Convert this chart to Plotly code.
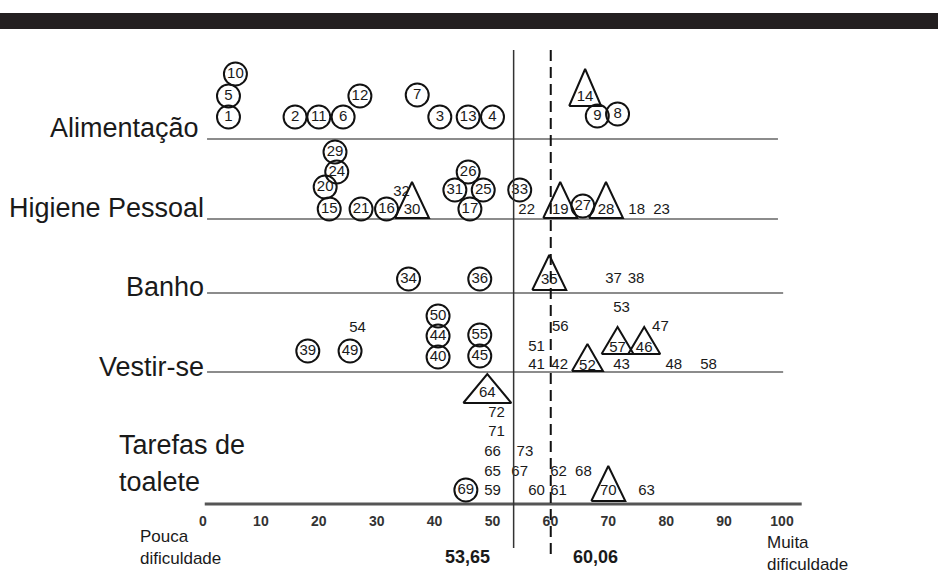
import plotly.graph_objects as go

# ---------------- data ----------------
categories = ["Alimentação", "Higiene Pessoal", "Banho", "Vestir-se", "Tarefas de\ntoalete"]

# kind: c = item in a circle, t = item in a triangle, n = number only
alimentacao_ids = [1, 5, 10, 2, 11, 6, 12, 7, 3, 13, 4, 14, 9, 8]
alimentacao_values = [4.4, 4.4, 5.6, 15.9, 20.0, 24.2, 27.1, 37.0, 40.9, 45.8, 50.0, 66.0, 68.1, 71.6]
alimentacao_stack = [22, 43, 65, 22, 22, 22, 43, 44, 22, 22, 22, 42, 23, 25]
alimentacao_kind = ["c", "c", "c", "c", "c", "c", "c", "c", "c", "c", "c", "t", "c", "c"]

higiene_ids = [29, 24, 20, 15, 21, 16, 30, 32, 26, 31, 25, 17, 33, 22, 19, 27, 28, 18, 23]
higiene_values = [22.8, 23.1, 21.1, 21.8, 27.3, 31.7, 36.1, 34.3, 45.8, 43.5, 48.4, 46.1, 54.7, 55.9,
                  61.7, 65.6, 69.6, 74.9, 79.2]
higiene_stack = [67, 47, 32, 10, 10, 10, 9, 27, 47, 29, 29, 10, 29, 9, 9, 13, 9, 9, 9]
higiene_kind = ["c", "c", "c", "c", "c", "c", "t", "n", "c", "c", "c", "c", "c", "n", "t", "c", "t", "n", "n"]

banho_ids = [34, 36, 35, 37, 38]
banho_values = [35.5, 47.8, 59.8, 70.9, 74.8]
banho_stack = [14, 14, 13, 14, 14]
banho_kind = ["c", "c", "t", "n", "n"]

vestir_ids = [50, 44, 40, 55, 45, 54, 39, 49, 51, 41, 56, 42, 52, 57, 46, 53, 47, 43, 48, 58]
vestir_values = [40.6, 40.6, 40.6, 47.8, 47.8, 26.7, 18.1, 25.4, 57.6, 57.6, 61.7, 61.6, 66.4, 71.6,
                 76.2, 72.3, 79.0, 72.3, 81.3, 87.3]
vestir_stack = [56, 36, 15, 37, 16, 44, 21, 21, 25, 7, 45, 7, 6, 24, 24, 64, 45, 7, 7, 7]
vestir_kind = ["c", "c", "c", "c", "c", "n", "c", "c", "n", "n", "n", "n", "t", "t", "t", "n", "n", "n", "n", "n"]

toalete_ids = [64, 72, 71, 66, 73, 65, 67, 62, 68, 69, 59, 60, 61, 70, 63]
toalete_values = [49.1, 50.7, 50.7, 50.0, 55.6, 50.0, 54.7, 61.4, 65.7, 45.4, 50.0, 57.6, 61.4, 70.0, 76.6]
toalete_stack = [111, 91, 72, 52, 52, 32, 32, 32, 32, 14, 13, 13, 13, 13, 13]
toalete_kind = ["t", "n", "n", "n", "n", "n", "n", "n", "n", "c", "n", "n", "n", "t", "n"]

mean_line_solid = 53.65
mean_line_dashed = 60.06
tick_values = [0, 10, 20, 30, 40, 50, 60, 70, 80, 90, 100]
left_end_label = "Pouca<br>dificuldade"
right_end_label = "Muita<br>dificuldade"

# ---------------- layout constants (positions / styles) ----------------
W, H = 938, 575
X0_PX, PPU = 203.0, 5.79          # pixel of value 0, pixels per unit
x_range = [-X0_PX / PPU, (W - X0_PX) / PPU]
BASELINE = [139, 219, 293, 372, 504]
LINE_EXT = [(0.7, 99.3), (0.7, 99.3), (0.7, 100.2), (0.7, 100.2), (0.3, 103.4)]
LABEL_Y = [[128], [208], [287], [367], [445, 482]]
LABEL_RIGHT = [-0.3, 0.5, 0.5, 0.5, None]
LABEL_LEFT_TAREFAS = (117 - X0_PX) / PPU
TRI_DEFAULT = (34, 36, 8)          # width px, height px, base below text px
TRI_STYLE = {52: (31, 27, 5), 57: (32, 27, 6), 46: (32, 27, 6), 64: (48, 29, 10), 35: (34, 35, 10),
             70: (34, 35, 10), 14: (32, 37, 9)}
FONT = "Liberation Sans, Arial, sans-serif"
INK = "#1a1a1a"

groups = [
    (alimentacao_ids, alimentacao_values, alimentacao_stack, alimentacao_kind),
    (higiene_ids, higiene_values, higiene_stack, higiene_kind),
    (banho_ids, banho_values, banho_stack, banho_kind),
    (vestir_ids, vestir_values, vestir_stack, vestir_kind),
    (toalete_ids, toalete_values, toalete_stack, toalete_kind),
]

circ_x, circ_y = [], []
txt_x, txt_y, txt_s = [], [], []
tri_x, tri_y = [], []
for gi, (ids, vals, stack, kinds) in enumerate(groups):
    base = BASELINE[gi]
    for i, v, s, k in zip(ids, vals, stack, kinds):
        y = base - s
        txt_x.append(v); txt_y.append(y); txt_s.append(str(i))
        if k == "c":
            circ_x.append(v); circ_y.append(y)
        elif k == "t":
            w, h, off = TRI_STYLE.get(i, TRI_DEFAULT)
            hw = w / 2 / PPU
            b = y + off
            tri_x += [v - hw, v + hw, v, v - hw, None]
            tri_y += [b, b, b - h, b, None]

fig = go.Figure()

fig.add_trace(go.Scatter(x=tri_x, y=tri_y, mode="lines",
                         line=dict(color="#111", width=2), hoverinfo="skip"))
fig.add_trace(go.Scatter(x=circ_x, y=circ_y, mode="markers",
                         marker=dict(symbol="circle-open", size=23, color="#111", line=dict(width=2)),
                         hoverinfo="skip"))
fig.add_trace(go.Scatter(x=txt_x, y=txt_y, text=txt_s, mode="text", textposition="middle center",
                         textfont=dict(family=FONT, size=15, color=INK), hoverinfo="skip"))
fig.add_trace(go.Scatter(x=tick_values, y=[522] * len(tick_values), text=[str(t) for t in tick_values],
                         mode="text", textposition="middle center",
                         textfont=dict(family=FONT, size=14, color="#333", weight="bold"), hoverinfo="skip"))

shapes = []
# black band at the top
shapes.append(dict(type="rect", xref="paper", yref="y", x0=0, x1=1, y0=13, y1=29,
                   fillcolor="#231f20", line=dict(width=0), layer="below"))
for gi, base in enumerate(BASELINE):
    x0, x1 = LINE_EXT[gi]
    last = gi == len(BASELINE) - 1
    shapes.append(dict(type="line", xref="x", yref="y", x0=x0, x1=x1, y0=base, y1=base,
                       line=dict(color="#555" if last else "#8c8c8c", width=3 if last else 2),
                       layer="below"))
shapes.append(dict(type="line", xref="x", yref="y", x0=mean_line_solid, x1=mean_line_solid, y0=50, y1=548,
                   line=dict(color="#333", width=1.5)))
shapes.append(dict(type="line", xref="x", yref="y", x0=mean_line_dashed, x1=mean_line_dashed, y0=50, y1=557,
                   line=dict(color="#111", width=2, dash="11px,6px")))

annotations = []
for gi, cat in enumerate(categories):
    lines = cat.split("\n")
    for li, line in enumerate(lines):
        if LABEL_RIGHT[gi] is not None:
            annotations.append(dict(x=LABEL_RIGHT[gi], y=LABEL_Y[gi][li], xref="x", yref="y", text=line,
                                    showarrow=False, xanchor="right", yanchor="middle",
                                    font=dict(family=FONT, size=27, color=INK)))
        else:
            annotations.append(dict(x=LABEL_LEFT_TAREFAS, y=LABEL_Y[gi][li], xref="x", yref="y", text=line,
                                    showarrow=False, xanchor="left", yanchor="middle",
                                    font=dict(family=FONT, size=27, color=INK)))

annotations.append(dict(x=(138 - X0_PX) / PPU, y=547, xref="x", yref="y", text=left_end_label,
                        showarrow=False, xanchor="left", yanchor="middle", align="left",
                        font=dict(family=FONT, size=17, color=INK)))
annotations.append(dict(x=(765 - X0_PX) / PPU, y=553, xref="x", yref="y", text=right_end_label,
                        showarrow=False, xanchor="left", yanchor="middle", align="left",
                        font=dict(family=FONT, size=17, color=INK)))
annotations.append(dict(x=mean_line_solid, y=557, xref="x", yref="y",
                        text=f"<b>{mean_line_solid:.2f}</b>".replace(".", ","),
                        showarrow=False, xanchor="right", yanchor="middle", xshift=-22,
                        font=dict(family=FONT, size=18, color=INK)))
annotations.append(dict(x=mean_line_dashed, y=557, xref="x", yref="y",
                        text=f"<b>{mean_line_dashed:.2f}</b>".replace(".", ","),
                        showarrow=False, xanchor="left", yanchor="middle", xshift=20,
                        font=dict(family=FONT, size=18, color=INK)))

fig.update_layout(
    width=W, height=H, margin=dict(l=0, r=0, t=0, b=0),
    paper_bgcolor="white", plot_bgcolor="white", showlegend=False,
    xaxis=dict(range=x_range, visible=False, fixedrange=True),
    yaxis=dict(range=[H, 0], visible=False, fixedrange=True),
    shapes=shapes, annotations=annotations,
)

fig.write_html("out.html", config={"displayModeBar": False},
               post_script="document.body.style.margin='0';document.body.style.overflow='hidden';")
